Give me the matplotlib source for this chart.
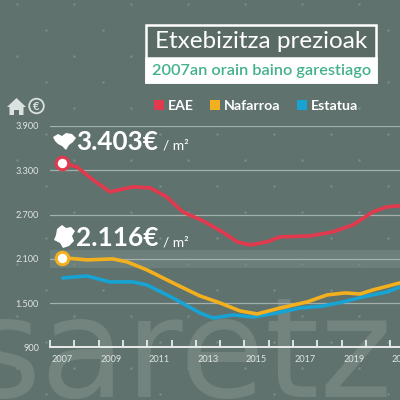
import matplotlib
matplotlib.use("Agg")
import matplotlib.pyplot as plt
import numpy as np
from matplotlib.patches import Rectangle, Polygon, Circle
from matplotlib.transforms import blended_transform_factory

# ---------------- data ----------------
eae_years = [2007.49, 2008.11, 2008.77, 2009.47, 2010.42, 2011.12, 2011.81, 2012.06, 2012.47,
             2013.30, 2014.16, 2014.70, 2015.23, 2015.93, 2016.47, 2017.70, 2018.65, 2019.47,
             2020.29, 2020.87, 2021.40]
eae_vals = [3403, 3345, 3170, 3007, 3075, 3061, 2938, 2857, 2735,
            2613, 2451, 2329, 2288, 2329, 2397, 2410, 2465, 2560,
            2736, 2804, 2818]

naf_years = [2007.49, 2008.52, 2009.59, 2010.17, 2010.99, 2012.06, 2013.17, 2014.00, 2014.82,
             2015.52, 2016.47, 2017.58, 2018.40, 2019.14, 2019.76, 2020.29, 2021.40]
naf_vals = [2116, 2085, 2098, 2058, 1949, 1773, 1596, 1501, 1393,
            1352, 1433, 1515, 1610, 1637, 1623, 1678, 1773]

est_years = [2007.53, 2008.52, 2009.47, 2010.42, 2010.99, 2012.06, 2013.17, 2013.71, 2014.53,
             2015.35, 2016.34, 2017.29, 2018.23, 2019.06, 2020.05, 2020.87, 2021.40]
est_vals = [1840, 1867, 1786, 1786, 1745, 1569, 1365, 1297, 1338,
            1311, 1365, 1433, 1460, 1515, 1596, 1650, 1718]

series_names = ["EAE", "Nafarroa", "Estatua"]
y_ticks = [900, 1500, 2100, 2700, 3300, 3900]
y_tick_labels = ["900", "1.500", "2.100", "2.700", "3.300", "3.900"]
x_label_years = [2007, 2009, 2011, 2013, 2015, 2017, 2019, 2021]
title = "Etxebizitza prezioak"
subtitle = "2007an orain baino garestiago"
eae_label = "3.403€"
naf_label = "2.116€"
unit_label = "/ m²"
watermark = "saretz"

# ---------------- style ----------------
BG = "#5f726d"
RED = "#e3394f"
YEL = "#f3b01e"
BLU = "#17a3d3"
LIGHT = "#dfe5e2"
TEAL = "#44b08e"
FONT = ["Lato", "DejaVu Sans"]
plt.rcParams["font.family"] = FONT

fig = plt.figure(figsize=(4, 4), dpi=100, facecolor=BG)

# background decoration axes (pixel coords)
bg = fig.add_axes([0, 0, 1, 1], zorder=0)
bg.set_xlim(0, 400); bg.set_ylim(400, 0); bg.axis("off")
bg.patch.set_alpha(0)
for k in range(-1, 16):
    yy = 30 + 26 * k
    x0 = 46 if k % 2 == 0 else 17
    xs = np.arange(x0, 420, 57)
    bg.plot(xs, [yy] * len(xs), "o", ms=1.8, color="#7b8b86", mec="none")
bg.text(-32, 397, watermark, fontsize=100, color="#73837e", fontweight="normal",
        ha="left", va="baseline", family=["DejaVu Sans"])

# data axes
ax = fig.add_axes([50 / 400, (400 - 347.3) / 400, 350 / 400, (347.3 - 126) / 400], zorder=1)
ax.patch.set_alpha(0)
ax.set_xlim(2007, 2021.4)
ax.set_ylim(900, 3900)

# lighter band around 2100 spanning whole figure width
tr = blended_transform_factory(fig.transFigure, ax.transData)
band = Rectangle((0, 1976), 1, 2220 - 1976, transform=tr, facecolor="#7a8a85",
                 alpha=0.55, edgecolor="none", zorder=0)
ax.add_patch(band)

for v in y_ticks[1:]:
    ax.axhline(v, color="#a3b0ac", lw=0.9, zorder=1)

for s in ["top", "right", "left"]:
    ax.spines[s].set_visible(False)
ax.spines["bottom"].set_color("#e6ecea")
ax.spines["bottom"].set_linewidth(1.4)

ax.set_yticks(y_ticks)
ax.set_yticklabels(y_tick_labels)
ax.tick_params(axis="y", length=0, pad=8, labelsize=6.6, labelcolor=LIGHT)

ax.set_xticks(np.arange(2007, 2022))
ax.set_xticklabels([])
ax.tick_params(axis="x", direction="in", length=5, width=1.3, color="#e6ecea")
xtr = blended_transform_factory(ax.transData, ax.transAxes)
for yr in x_label_years:
    ax.text(yr + 0.5, -0.055, str(yr), transform=xtr, ha="center", va="center",
            fontsize=6.6, color=LIGHT, clip_on=False)

ax.plot(est_years, est_vals, color=BLU, lw=2.6, solid_capstyle="round",
        solid_joinstyle="round", zorder=3)
ax.plot(naf_years, naf_vals, color=YEL, lw=2.6, solid_capstyle="round",
        solid_joinstyle="round", zorder=4)
ax.plot(eae_years, eae_vals, color=RED, lw=2.6, solid_capstyle="round",
        solid_joinstyle="round", zorder=5)
ax.plot([eae_years[0]], [eae_vals[0]], "o", ms=9, mfc="white", mec=RED, mew=2.2, zorder=6)
ax.plot([naf_years[0]], [naf_vals[0]], "o", ms=9, mfc="white", mec=YEL, mew=2.2, zorder=6)

# foreground axes (pixel coords)
fg = fig.add_axes([0, 0, 1, 1], zorder=3)
fg.set_xlim(0, 400); fg.set_ylim(400, 0); fg.axis("off")
fg.patch.set_alpha(0)

# title box
fg.add_patch(Rectangle((146, 24.5), 230, 57, facecolor="#5a6b66", edgecolor="white", lw=1.8))
fg.add_patch(Rectangle((146, 57.7), 230, 24, facecolor="white", edgecolor="white", lw=1.8))
fg.text(261, 48.5, title, ha="center", va="baseline", fontsize=17.5, color="white")
fg.text(261.5, 74.5, subtitle, ha="center", va="baseline", fontsize=11.7, color=TEAL,
        fontweight="semibold")

# legend
leg_x = [154, 210, 297]
for (lx, name, col) in zip(leg_x, series_names, [RED, YEL, BLU]):
    fg.add_patch(Rectangle((lx, 100), 10, 10, facecolor=col, edgecolor="none"))
    fg.text(lx + 14, 110, name, ha="left", va="baseline", fontsize=10.2,
            color="white", fontweight="bold")

# house and euro icons
fg.add_patch(Polygon([(7, 107), (16.5, 98), (26, 107), (23.5, 107), (23.5, 115), (19, 115),
                      (19, 110), (14, 110), (14, 115), (9.5, 115), (9.5, 107)],
                     closed=True, facecolor="#dbe2df", edgecolor="none"))
fg.add_patch(Circle((36.5, 106), 7.3, facecolor="none", edgecolor="#dbe2df", lw=1.3))
fg.text(36.5, 106.5, "€", ha="center", va="center", fontsize=8, color="#dbe2df",
        fontweight="bold")

# region silhouettes (rough)
fg.add_patch(Polygon([(53, 137), (58, 134), (62, 136), (66, 133), (72, 134), (76, 138),
                      (73, 142), (69, 145), (66, 150), (62, 146), (58, 144), (55, 141)],
                     closed=True, facecolor="white", edgecolor="none"))
fg.add_patch(Polygon([(57, 229), (62, 225), (66, 228), (71, 227), (75, 231), (72, 236),
                      (74, 241), (69, 246), (63, 248), (60, 243), (54, 240), (56, 235)],
                     closed=True, facecolor="white", edgecolor="none"))

# value annotations
for (yb, lab) in [(149.5, eae_label), (246.5, naf_label)]:
    fg.text(76, yb, lab, ha="left", va="baseline", fontsize=18.8, color="white",
            fontweight="bold")
    fg.text(163, yb, unit_label, ha="left", va="baseline", fontsize=10, color="white")

fig.savefig("out.png", dpi=100, facecolor=BG)
